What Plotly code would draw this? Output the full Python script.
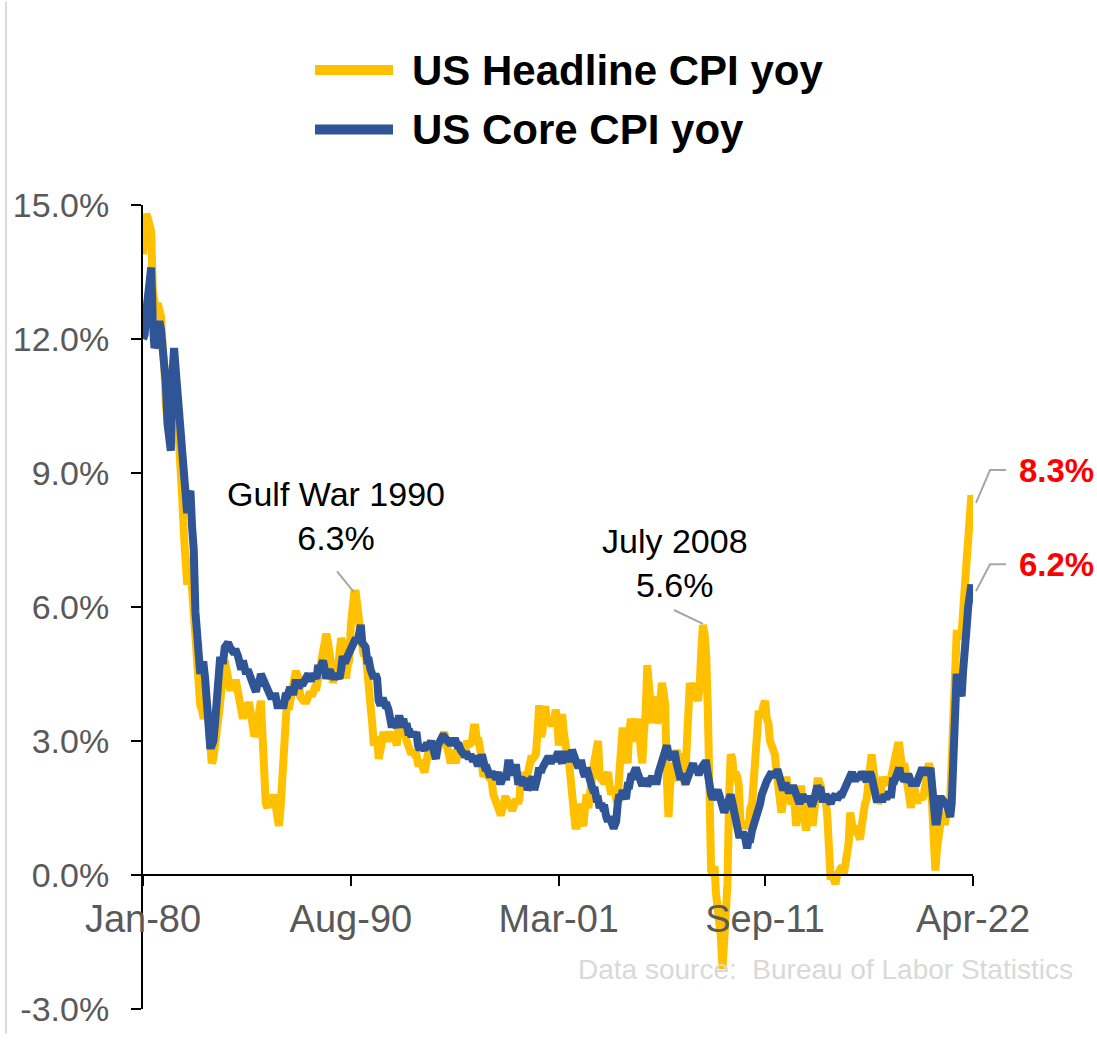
import pandas as pd
import plotly.graph_objects as go

# ---------------- data (monthly, Jan-1980 .. Apr-2022, % yoy) ----------------
headline_cpi_yoy = [
    13.9, 14.2, 14.8, 14.7, 14.4, 14.4, 13.1, 12.9, 12.6, 12.8, 12.6, 12.5,   # 1980
    11.8, 11.4, 10.5, 10.0, 9.8, 9.6, 10.8, 10.8, 11.0, 10.1, 9.6, 8.9,       # 1981
    8.4, 7.6, 6.8, 6.5, 6.7, 7.1, 6.4, 5.9, 5.0, 5.1, 4.6, 3.8,               # 1982
    3.7, 3.5, 3.6, 3.9, 3.5, 2.6, 2.5, 2.6, 2.9, 2.9, 3.3, 3.8,               # 1983
    4.2, 4.6, 4.8, 4.6, 4.2, 4.2, 4.2, 4.3, 4.3, 4.3, 4.1, 3.9,               # 1984
    3.5, 3.5, 3.7, 3.7, 3.8, 3.8, 3.6, 3.3, 3.1, 3.2, 3.5, 3.8,               # 1985
    3.9, 3.1, 2.2, 1.6, 1.5, 1.8, 1.6, 1.6, 1.8, 1.5, 1.3, 1.1,               # 1986
    1.5, 2.1, 3.0, 3.8, 3.9, 3.7, 3.9, 4.3, 4.4, 4.5, 4.5, 4.4,               # 1987
    4.0, 3.9, 3.9, 3.9, 3.9, 4.0, 4.1, 4.0, 4.2, 4.2, 4.2, 4.4,               # 1988
    4.7, 4.8, 5.0, 5.1, 5.4, 5.2, 5.0, 4.7, 4.3, 4.5, 4.7, 4.6,               # 1989
    5.2, 5.3, 5.2, 4.7, 4.4, 4.7, 4.8, 5.6, 6.2, 6.3, 6.3, 6.1,               # 1990
    5.7, 5.3, 4.9, 4.9, 5.0, 4.7, 4.4, 3.8, 3.4, 2.9, 3.0, 3.1,               # 1991
    2.6, 2.8, 3.2, 3.2, 3.0, 3.1, 3.2, 3.1, 3.0, 3.2, 3.0, 2.9,               # 1992
    3.3, 3.2, 3.1, 3.2, 3.2, 3.0, 2.8, 2.8, 2.7, 2.8, 2.7, 2.7,               # 1993
    2.5, 2.5, 2.5, 2.4, 2.3, 2.5, 2.8, 2.9, 3.0, 2.6, 2.7, 2.7,               # 1994
    2.8, 2.9, 2.9, 3.1, 3.2, 3.0, 2.8, 2.6, 2.5, 2.8, 2.6, 2.5,               # 1995
    2.7, 2.7, 2.8, 2.9, 2.9, 2.8, 3.0, 2.9, 3.0, 3.0, 3.3, 3.3,               # 1996
    3.0, 3.0, 2.8, 2.5, 2.2, 2.3, 2.2, 2.2, 2.2, 2.1, 1.8, 1.7,               # 1997
    1.6, 1.4, 1.4, 1.4, 1.7, 1.7, 1.7, 1.6, 1.5, 1.5, 1.5, 1.6,               # 1998
    1.7, 1.6, 1.7, 2.3, 2.1, 2.0, 2.1, 2.3, 2.6, 2.6, 2.6, 2.7,               # 1999
    2.7, 3.2, 3.8, 3.1, 3.2, 3.7, 3.7, 3.4, 3.5, 3.4, 3.4, 3.4,               # 2000
    3.7, 3.5, 2.9, 3.3, 3.6, 3.2, 2.7, 2.7, 2.6, 2.1, 1.9, 1.6,               # 2001
    1.1, 1.1, 1.5, 1.6, 1.2, 1.1, 1.5, 1.8, 1.5, 2.0, 2.2, 2.4,               # 2002
    2.6, 3.0, 3.0, 2.2, 2.1, 2.1, 2.1, 2.2, 2.3, 2.0, 1.8, 1.9,               # 2003
    1.9, 1.7, 1.7, 2.3, 3.1, 3.3, 3.0, 2.7, 2.5, 3.2, 3.5, 3.3,               # 2004
    3.0, 3.0, 3.1, 3.5, 2.8, 2.5, 3.2, 3.6, 4.7, 4.3, 3.5, 3.4,               # 2005
    4.0, 3.6, 3.4, 3.5, 4.2, 4.3, 4.1, 3.8, 2.1, 1.3, 2.0, 2.5,               # 2006
    2.1, 2.4, 2.8, 2.6, 2.7, 2.7, 2.4, 2.0, 2.8, 3.5, 4.3, 4.1,               # 2007
    4.3, 4.0, 4.0, 3.9, 4.2, 5.0, 5.6, 5.4, 4.9, 3.7, 1.1, 0.1,               # 2008
    0.0, 0.2, -0.4, -0.7, -1.3, -1.4, -2.1, -1.5, -1.3, -0.2, 1.8, 2.7,       # 2009
    2.6, 2.1, 2.3, 2.2, 2.0, 1.1, 1.2, 1.1, 1.1, 1.2, 1.1, 1.5,               # 2010
    1.6, 2.1, 2.7, 3.2, 3.6, 3.6, 3.6, 3.8, 3.9, 3.5, 3.4, 3.0,               # 2011
    2.9, 2.9, 2.7, 2.3, 1.7, 1.7, 1.4, 1.7, 2.0, 2.2, 1.8, 1.7,               # 2012
    1.6, 2.0, 1.5, 1.1, 1.4, 1.8, 2.0, 1.5, 1.2, 1.0, 1.2, 1.5,               # 2013
    1.6, 1.1, 1.5, 2.0, 2.1, 2.1, 2.0, 1.7, 1.7, 1.7, 1.3, 0.8,               # 2014
    -0.1, 0.0, -0.1, -0.2, 0.0, 0.1, 0.2, 0.2, 0.0, 0.2, 0.5, 0.7,           # 2015
    1.4, 1.0, 0.9, 1.1, 1.0, 1.0, 0.8, 1.1, 1.5, 1.6, 1.7, 2.1,               # 2016
    2.5, 2.7, 2.4, 2.2, 1.9, 1.6, 1.7, 1.9, 2.2, 2.0, 2.2, 2.1,               # 2017
    2.1, 2.2, 2.4, 2.5, 2.8, 2.9, 2.9, 2.7, 2.3, 2.5, 2.2, 1.9,               # 2018
    1.6, 1.5, 1.9, 2.0, 1.8, 1.6, 1.8, 1.7, 1.7, 1.8, 2.1, 2.3,               # 2019
    2.5, 2.3, 1.5, 0.3, 0.1, 0.6, 1.0, 1.3, 1.4, 1.2, 1.2, 1.4,               # 2020
    1.4, 1.7, 2.6, 4.2, 5.0, 5.4, 5.4, 5.3, 5.4, 6.2, 6.8, 7.0,               # 2021
    7.5, 7.9, 8.5, 8.3,                                                       # 2022
]

core_cpi_yoy = [
    12.0, 12.1, 12.6, 13.0, 13.6, 13.6, 12.4, 11.8, 11.9, 12.2, 12.4, 12.2,  # 1980
    11.9, 11.5, 11.0, 10.1, 9.5, 9.5, 11.2, 11.8, 11.3, 10.8, 10.1, 9.5,     # 1981
    9.0, 8.7, 8.3, 8.1, 8.5, 8.6, 7.8, 7.3, 5.9, 5.4, 5.1, 4.5,              # 1982
    4.7, 4.7, 4.4, 3.6, 3.2, 2.9, 2.9, 3.0, 3.4, 4.1, 4.4, 4.8,              # 1983
    4.8, 4.8, 5.1, 5.2, 5.2, 5.1, 5.0, 5.0, 5.0, 5.0, 4.9, 4.7,              # 1984
    4.6, 4.8, 4.7, 4.5, 4.6, 4.5, 4.3, 4.3, 4.2, 4.1, 4.3, 4.3,              # 1985
    4.5, 4.4, 4.3, 4.2, 4.1, 4.0, 4.0, 4.0, 4.0, 4.0, 3.8, 3.8,              # 1986
    3.8, 3.8, 3.8, 4.0, 4.0, 4.1, 4.2, 4.1, 4.1, 4.3, 4.3, 4.2,              # 1987
    4.3, 4.3, 4.3, 4.4, 4.4, 4.5, 4.4, 4.4, 4.5, 4.4, 4.4, 4.7,              # 1988
    4.6, 4.7, 4.8, 4.6, 4.4, 4.5, 4.6, 4.5, 4.4, 4.4, 4.5, 4.4,              # 1989
    4.4, 4.6, 4.9, 4.8, 4.8, 4.9, 5.0, 5.1, 5.2, 5.3, 5.3, 5.2,              # 1990
    5.6, 5.6, 5.2, 5.1, 5.1, 4.8, 4.8, 4.6, 4.5, 4.4, 4.5, 4.4,              # 1991
    3.9, 3.8, 3.9, 3.9, 3.8, 3.8, 3.7, 3.5, 3.3, 3.5, 3.4, 3.3,              # 1992
    3.5, 3.5, 3.4, 3.5, 3.3, 3.4, 3.2, 3.2, 3.1, 3.2, 3.1, 3.2,              # 1993
    2.9, 2.8, 2.9, 2.8, 2.8, 2.9, 2.9, 2.9, 3.0, 2.9, 2.8, 2.6,              # 1994
    2.9, 3.0, 3.0, 3.1, 3.1, 3.0, 3.0, 3.0, 2.9, 3.0, 3.0, 3.0,              # 1995
    2.9, 2.9, 2.8, 2.7, 2.7, 2.7, 2.7, 2.6, 2.7, 2.6, 2.6, 2.6,              # 1996
    2.5, 2.5, 2.5, 2.7, 2.5, 2.4, 2.4, 2.3, 2.2, 2.3, 2.2, 2.2,              # 1997
    2.2, 2.3, 2.1, 2.1, 2.2, 2.2, 2.2, 2.5, 2.5, 2.3, 2.3, 2.4,              # 1998
    2.4, 2.1, 2.1, 2.2, 2.0, 2.1, 2.1, 1.9, 2.0, 2.1, 2.2, 1.9,              # 1999
    2.0, 2.2, 2.4, 2.3, 2.4, 2.5, 2.5, 2.6, 2.6, 2.5, 2.6, 2.6,              # 2000
    2.6, 2.7, 2.7, 2.6, 2.5, 2.7, 2.7, 2.7, 2.6, 2.6, 2.8, 2.7,              # 2001
    2.6, 2.6, 2.4, 2.5, 2.5, 2.3, 2.2, 2.4, 2.2, 2.2, 2.0, 1.9,              # 2002
    1.9, 1.7, 1.7, 1.5, 1.6, 1.5, 1.5, 1.3, 1.2, 1.3, 1.1, 1.1,              # 2003
    1.1, 1.2, 1.6, 1.8, 1.7, 1.9, 1.8, 1.7, 2.0, 2.0, 2.2, 2.2,              # 2004
    2.3, 2.4, 2.3, 2.2, 2.2, 2.0, 2.1, 2.1, 2.0, 2.1, 2.1, 2.2,              # 2005
    2.1, 2.1, 2.1, 2.3, 2.4, 2.6, 2.7, 2.8, 2.9, 2.7, 2.6, 2.6,              # 2006
    2.7, 2.7, 2.5, 2.3, 2.2, 2.2, 2.2, 2.1, 2.1, 2.2, 2.3, 2.4,              # 2007
    2.5, 2.3, 2.4, 2.3, 2.3, 2.4, 2.5, 2.5, 2.5, 2.2, 2.0, 1.8,              # 2008
    1.7, 1.8, 1.8, 1.9, 1.8, 1.7, 1.5, 1.4, 1.5, 1.7, 1.7, 1.8,              # 2009
    1.6, 1.3, 1.1, 0.9, 0.9, 0.9, 0.9, 0.9, 0.8, 0.6, 0.8, 0.8,              # 2010
    1.0, 1.1, 1.2, 1.3, 1.5, 1.6, 1.8, 2.0, 2.0, 2.1, 2.2, 2.2,              # 2011
    2.3, 2.2, 2.3, 2.3, 2.3, 2.2, 2.1, 1.9, 2.0, 2.0, 1.9, 1.9,              # 2012
    1.9, 2.0, 1.9, 1.7, 1.7, 1.6, 1.7, 1.8, 1.7, 1.7, 1.7, 1.7,              # 2013
    1.6, 1.6, 1.7, 1.8, 2.0, 1.9, 1.9, 1.7, 1.7, 1.8, 1.7, 1.6,              # 2014
    1.6, 1.7, 1.8, 1.8, 1.7, 1.8, 1.8, 1.8, 1.9, 1.9, 2.0, 2.1,              # 2015
    2.2, 2.3, 2.2, 2.1, 2.2, 2.2, 2.2, 2.3, 2.2, 2.1, 2.1, 2.2,              # 2016
    2.3, 2.2, 2.0, 1.9, 1.7, 1.7, 1.7, 1.7, 1.7, 1.8, 1.7, 1.8,              # 2017
    1.8, 1.8, 2.1, 2.1, 2.2, 2.3, 2.4, 2.2, 2.2, 2.1, 2.2, 2.2,              # 2018
    2.2, 2.1, 2.0, 2.1, 2.0, 2.1, 2.2, 2.4, 2.4, 2.3, 2.3, 2.3,              # 2019
    2.3, 2.4, 2.1, 1.4, 1.2, 1.2, 1.6, 1.7, 1.7, 1.6, 1.6, 1.6,              # 2020
    1.4, 1.3, 1.6, 3.0, 3.8, 4.5, 4.3, 4.0, 4.0, 4.6, 4.9, 5.5,              # 2021
    6.0, 6.4, 6.5, 6.2,                                                      # 2022
]

series_names = ["US Headline CPI yoy", "US Core CPI yoy"]
series_colors = ["#FFC000", "#2F5597"]

x_tick_dates = ["1980-01-01", "1990-08-01", "2001-03-01", "2011-09-01", "2022-04-01"]
x_tick_labels = ["Jan-80", "Aug-90", "Mar-01", "Sep-11", "Apr-22"]
y_tick_values = [-3, 0, 3, 6, 9, 12, 15]
y_tick_labels = ["-3.0%", "0.0%", "3.0%", "6.0%", "9.0%", "12.0%", "15.0%"]

months = pd.date_range("1980-01-01", periods=len(headline_cpi_yoy), freq="MS")
headline = pd.Series(headline_cpi_yoy, index=months)
core = pd.Series(core_cpi_yoy, index=months)

# ---------------- geometry (pixels) ----------------
W, H = 1097, 1040
L, R, T, B = 143, 973, 205, 1015
FONT = "Arial, 'Liberation Sans', Helvetica, sans-serif"


def px(x):
    return (x - L) / (R - L)


def py(y):
    return (B - y) / (B - T)


fig = go.Figure()
for name, ser, col in zip(series_names, [headline, core], series_colors):
    fig.add_trace(go.Scatter(
        x=ser.index, y=ser.values, name=name, mode="lines",
        line=dict(color=col, width=8), showlegend=False,
        hovertemplate="%{x|%b-%y}: %{y:.1f}%<extra>" + name + "</extra>",
    ))

shapes = []
annotations = []

# custom legend (long thick line keys like the original)
for i, (name, col) in enumerate(zip(series_names, series_colors)):
    yc = 69 + 60 * i
    shapes.append(dict(type="line", xref="paper", yref="paper",
                       x0=px(315), x1=px(393), y0=py(yc), y1=py(yc),
                       line=dict(color=col, width=10)))
    annotations.append(dict(xref="paper", yref="paper", x=px(410), y=py(yc),
                            xanchor="left", yanchor="middle", showarrow=False,
                            text="<b>" + name + "</b>",
                            font=dict(family=FONT, size=42, color="#000000")))

grey = "#A6A6A6"
# Gulf War 1990 callout
gulf_peak = headline["1990"].max()
annotations.append(dict(xref="paper", yref="paper", x=px(336), y=py(518),
                        xanchor="center", yanchor="middle", showarrow=False,
                        text=f"Gulf War 1990<br>{gulf_peak:.1f}%",
                        font=dict(family=FONT, size=34, color="#000000")))
shapes.append(dict(type="line", xref="paper", yref="paper",
                   x0=px(337), y0=py(574), x1=px(354), y1=py(595),
                   line=dict(color=grey, width=2)))

# July 2008 callout
jul08 = headline["2008-07-01"]
annotations.append(dict(xref="paper", yref="paper", x=px(675), y=py(566),
                        xanchor="center", yanchor="middle", showarrow=False,
                        text=f"July 2008<br>{jul08:.1f}%",
                        font=dict(family=FONT, size=34, color="#000000")))
shapes.append(dict(type="line", xref="paper", yref="paper",
                   x0=px(674), y0=py(613), x1=px(703), y1=py(627),
                   line=dict(color=grey, width=2)))

# end-of-series labels
for val, ylab, ystart in [(headline.iloc[-1], 472, 505), (core.iloc[-1], 567, 594)]:
    annotations.append(dict(xref="paper", yref="paper", x=px(1017), y=py(ylab),
                            xanchor="left", yanchor="middle", showarrow=False,
                            text=f"<b>{val:.1f}%</b>",
                            font=dict(family=FONT, size=33, color="#FF0000")))
    shapes.append(dict(type="path", xref="paper", yref="paper",
                       path=f"M {px(976)},{py(ystart)} L {px(990)},{py(ylab)} L {px(1006)},{py(ylab)}",
                       line=dict(color=grey, width=2)))

# data source
annotations.append(dict(xref="paper", yref="paper", x=px(1075), y=py(975),
                        xanchor="right", yanchor="middle", showarrow=False,
                        text="Data source:  Bureau of Labor Statistics",
                        font=dict(family=FONT, size=28, color="#D9D9D9")))

# left light border line
shapes.append(dict(type="line", xref="paper", yref="paper",
                   x0=px(6), x1=px(6), y0=py(H), y1=py(0),
                   line=dict(color="#D0D0D0", width=1.5)))

fig.update_layout(
    width=W, height=H,
    margin=dict(l=L, r=W - R, t=T, b=H - B, pad=0),
    paper_bgcolor="white", plot_bgcolor="white",
    showlegend=False,
    shapes=shapes, annotations=annotations,
    font=dict(family=FONT),
    xaxis=dict(
        type="date", range=[months[0], months[-1]],
        anchor="free", position=3 / 18,
        showline=True, linecolor="black", linewidth=2,
        ticks="outside", ticklen=10, tickwidth=2, tickcolor="black",
        tickvals=x_tick_dates, ticktext=x_tick_labels,
        tickfont=dict(family=FONT, size=38, color="#595959"),
        ticklabelstandoff=0,
        showgrid=False, zeroline=False,
    ),
    yaxis=dict(
        range=[-3, 15], domain=[0, 1],
        showline=True, linecolor="black", linewidth=2,
        ticks="outside", ticklen=10, tickwidth=2, tickcolor="black",
        tickvals=y_tick_values, ticktext=y_tick_labels,
        tickfont=dict(family=FONT, size=34, color="#595959"),
        ticklabelstandoff=15,
        showgrid=False, zeroline=False,
    ),
)

fig.write_html("out.html", config={"displayModeBar": False},
               post_script="document.body.style.margin='0';document.body.style.overflow='hidden';")
